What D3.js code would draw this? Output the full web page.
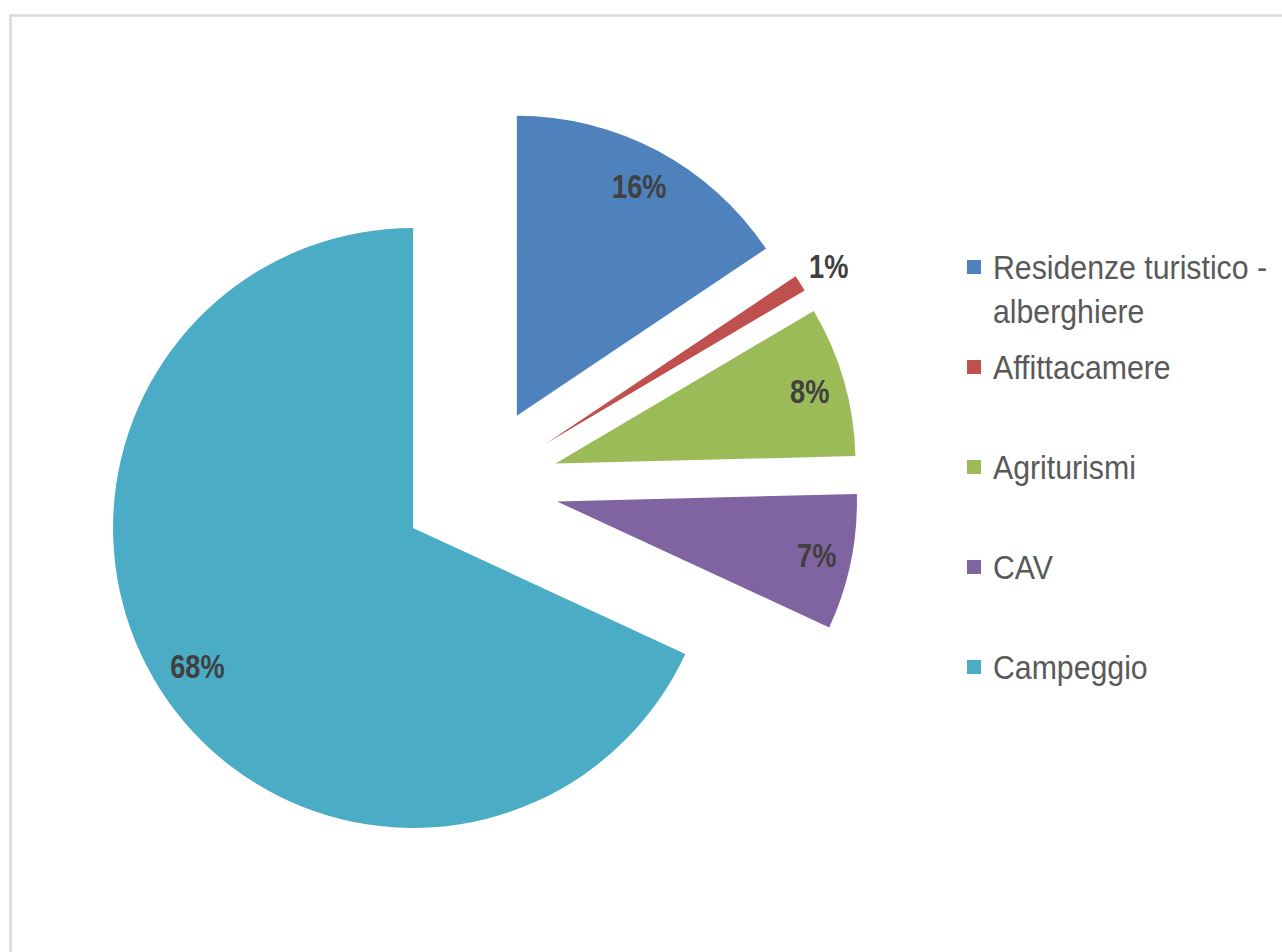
<!DOCTYPE html>
<html>
<head>
<meta charset="utf-8">
<script src="https://cdn.jsdelivr.net/npm/d3@7/dist/d3.min.js"></script>
<style>
  html, body { margin: 0; padding: 0; background: #ffffff; }
  svg { display: block; }
</style>
</head>
<body>
<svg id="chart" width="1282" height="952"></svg>
<script>
// ---- data ----
const categories = ["Residenze turistico - alberghiere", "Affittacamere", "Agriturismi", "CAV", "Campeggio"];
const legendLines = [["Residenze turistico -", "alberghiere"], ["Affittacamere"], ["Agriturismi"], ["CAV"], ["Campeggio"]];
const values = [15.6, 0.9, 8.1, 7.3, 68.1];
const valueLabels = ["16%", "1%", "8%", "7%", "68%"];
const colors = ["#4F81BD", "#C0504D", "#9BBB59", "#8064A2", "#4BACC6"];

// ---- layout ----
const W = 1282, H = 952;
const cx = 479.6, cy = 485.4;   // pie centre (before explosion)
const R = 300;                   // radius
const explode = 79;              // explosion offset of every slice
const labelFont = 34, legendFont = 34;
const labelScaleX = 0.8, legendScaleX = 0.89;

const svg = d3.select("#chart");

// chart area border
svg.append("rect")
  .attr("x", 10.5).attr("y", 15.5)
  .attr("width", W + 50).attr("height", H + 50)
  .attr("fill", "#ffffff")
  .attr("stroke", "#D9D9D9")
  .attr("stroke-width", 2.5);

const pie = d3.pie().sort(null).value(d => d).startAngle(0).endAngle(2 * Math.PI);
const arcs = pie(values);
const arc = d3.arc().innerRadius(0).outerRadius(R);

const dir = a => [Math.sin(a), -Math.cos(a)];

const g = svg.append("g");

arcs.forEach((a, i) => {
  const mid = (a.startAngle + a.endAngle) / 2;
  const [ux, uy] = dir(mid);
  const vx = cx + explode * ux, vy = cy + explode * uy;
  g.append("path")
    .attr("d", arc(a))
    .attr("transform", `translate(${vx},${vy})`)
    .attr("fill", colors[i]);
});

// data labels
arcs.forEach((a, i) => {
  const mid = (a.startAngle + a.endAngle) / 2;
  const [ux, uy] = dir(mid);
  const vx = cx + explode * ux, vy = cy + explode * uy;
  const t = svg.append("text")
    .attr("font-family", "'Liberation Sans', Arial, sans-serif")
    .attr("font-weight", "bold")
    .attr("font-size", labelFont)
    .attr("fill", "#404040")
    .attr("text-anchor", "middle")
    .text(valueLabels[i]);
  const bb = t.node().getBBox();
  const w = bb.width * labelScaleX, h = labelFont;
  const extent = Math.abs(ux) * w / 2 + Math.abs(uy) * h / 2;
  const outside = a.data < 2;
  const dist = outside ? R + 8 + extent : R - 12 - extent;
  const lx = vx + dist * ux, ly = vy + dist * uy;
  t.attr("transform", `translate(${lx},${ly + labelFont * 0.36}) scale(${labelScaleX},1)`);
});

// legend
const legY0 = 267, legStep = 100, legX = 967, sq = 14, lineH = 44;
legendLines.forEach((lines, i) => {
  const y = legY0 + i * legStep;
  svg.append("rect")
    .attr("x", legX).attr("y", y - sq / 2)
    .attr("width", sq).attr("height", sq)
    .attr("fill", colors[i]);
  lines.forEach((ln, j) => {
    svg.append("text")
      .attr("font-family", "'Liberation Sans', Arial, sans-serif")
      .attr("font-size", legendFont)
      .attr("fill", "#595959")
      .attr("transform", `translate(993,${y + j * lineH + legendFont * 0.36}) scale(${legendScaleX},1)`)
      .text(ln);
  });
});
</script>
</body>
</html>
